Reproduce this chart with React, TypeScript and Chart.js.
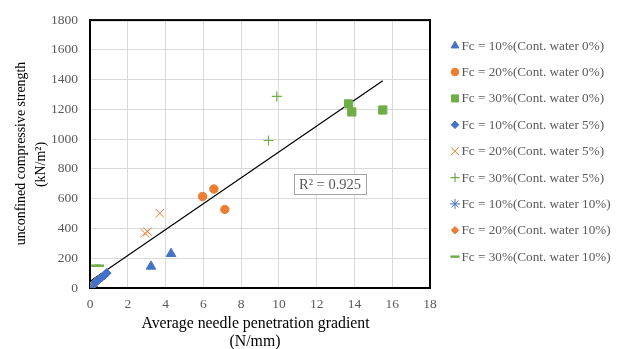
import React, { useEffect, useRef } from 'react';
import { Chart, registerables } from 'chart.js';
import { drawPoint } from 'chart.js/helpers';

Chart.register(...registerables);

// ---- data ----
const seriesLabels = [
  'Fc = 10%(Cont. water 0%)',
  'Fc = 20%(Cont. water 0%)',
  'Fc = 30%(Cont. water 0%)',
  'Fc = 10%(Cont. water 5%)',
  'Fc = 20%(Cont. water 5%)',
  'Fc = 30%(Cont. water 5%)',
  'Fc = 10%(Cont. water 10%)',
  'Fc = 20%(Cont. water 10%)',
  'Fc = 30%(Cont. water 10%)',
];

const fc10w0X = [3.23, 4.29];
const fc10w0Y = [145, 230];
const fc20w0X = [5.96, 6.56, 7.14];
const fc20w0Y = [615, 665, 528];
const fc30w0X = [13.69, 13.86, 15.5];
const fc30w0Y = [1237, 1183, 1196];
const fc10w5X = [0.3, 0.45, 0.6, 0.75, 0.88];
const fc10w5Y = [40, 55, 70, 85, 100];
const fc20w5X = [2.91, 3.05, 3.7];
const fc20w5Y = [367, 378, 502];
const fc30w5X = [9.45, 9.89];
const fc30w5Y = [991, 1287];
const fc10w10X = [0.05, 0.15];
const fc10w10Y = [5, 10];
const fc20w10X = [0.1, 0.2, 0.3];
const fc20w10Y = [15, 25, 38];
const fc30w10X = [0.3, 0.5];
const fc30w10Y = [150, 150];

const trendX = [0.05, 15.5];
const trendY = [49, 1393];
const rSquaredText = 'R² = 0.925';

const xTicks = [0, 2, 4, 6, 8, 10, 12, 14, 16, 18];
const yTicks = [0, 200, 400, 600, 800, 1000, 1200, 1400, 1600, 1800];

const xTitle = ['Average needle penetration gradient', '(N/mm)'];
const yTitle = ['unconfined compressive strength', '(kN/m²)'];

// ---- styles ----
const BLUE = '#4472C4';
const ORANGE = '#ED7D31';
const GREEN = '#70AD47';
const FONT = '"Liberation Serif", "Times New Roman", serif';

const pts = (xs: number[], ys: number[]) => xs.map((x, i) => ({ x, y: ys[i] }));

const seriesStyles = [
  { color: BLUE, style: 'triangle', radius: 5.5, borderWidth: 1, legendRadius: 4.5 },
  { color: ORANGE, style: 'circle', radius: 4.2, borderWidth: 1, legendRadius: 3.8 },
  { color: GREEN, style: 'rect', radius: 5.8, borderWidth: 1, legendRadius: 5 },
  { color: BLUE, style: 'rectRot', radius: 4.5, borderWidth: 1, legendRadius: 3.8 },
  { color: ORANGE, style: 'crossRot', radius: 6, borderWidth: 1, legendRadius: 5.5 },
  { color: GREEN, style: 'cross', radius: 5, borderWidth: 1.2, legendRadius: 4.5 },
  { color: BLUE, style: 'star', radius: 5, borderWidth: 1, legendRadius: 5 },
  { color: ORANGE, style: 'rectRot', radius: 4.5, borderWidth: 1, legendRadius: 3.8 },
  { color: GREEN, style: 'line', radius: 4.5, borderWidth: 2.5, legendRadius: 4.5 },
];

const seriesData = [
  pts(fc10w0X, fc10w0Y),
  pts(fc20w0X, fc20w0Y),
  pts(fc30w0X, fc30w0Y),
  pts(fc10w5X, fc10w5Y),
  pts(fc20w5X, fc20w5Y),
  pts(fc30w5X, fc30w5Y),
  pts(fc10w10X, fc10w10Y),
  pts(fc20w10X, fc20w10Y),
  pts(fc30w10X, fc30w10Y),
];

const decorPlugin = {
  id: 'decor',
  beforeDatasetsDraw(chart: any) {
    const { ctx, chartArea: a } = chart;
    ctx.save();
    ctx.strokeStyle = '#000';
    ctx.lineWidth = 2;
    ctx.strokeRect(a.left, a.top, a.right - a.left, a.bottom - a.top);
    ctx.restore();
  },
  afterDraw(chart: any) {
    const { ctx } = chart;
    ctx.save();
    // legend
    ctx.font = `13.2px ${FONT}`;
    ctx.textAlign = 'left';
    ctx.textBaseline = 'middle';
    seriesLabels.forEach((label, i) => {
      const s = seriesStyles[i];
      const y = 45.7 + i * 26.37;
      ctx.fillStyle = s.color;
      ctx.strokeStyle = s.color;
      ctx.lineWidth = s.borderWidth;
      drawPoint(ctx, { pointStyle: s.style, rotation: 0, radius: s.legendRadius, borderWidth: s.borderWidth } as any, 455, y);
      ctx.fillStyle = '#595959';
      ctx.fillText(label, 461.5, y + 0.5);
    });

    // R squared box
    const bx = 294, by = 174, bw = 72, bh = 20;
    ctx.fillStyle = '#fff';
    ctx.fillRect(bx, by, bw, bh);
    ctx.strokeStyle = '#a6a6a6';
    ctx.lineWidth = 1;
    ctx.strokeRect(bx + 0.5, by + 0.5, bw, bh);
    ctx.fillStyle = '#595959';
    ctx.font = `14.5px ${FONT}`;
    ctx.textAlign = 'center';
    ctx.fillText(rSquaredText, bx + bw / 2, by + bh / 2 + 1);

    // x title
    ctx.fillStyle = '#000';
    ctx.font = `15.8px ${FONT}`;
    ctx.fillText(xTitle[0], 255.5, 323.5);
    ctx.fillText(xTitle[1], 255, 341.5);

    // y title
    ctx.font = `13.9px ${FONT}`;
    ctx.translate(21, 153.5);
    ctx.rotate(-Math.PI / 2);
    ctx.fillText(yTitle[0], 0, 0);
    ctx.rotate(Math.PI / 2);
    ctx.translate(-21, -153.5);
    ctx.translate(41, 164.5);
    ctx.rotate(-Math.PI / 2);
    ctx.fillText(yTitle[1], 0, 0);
    ctx.restore();
  },
};

export default function App() {
  const ref = useRef<HTMLCanvasElement | null>(null);
  useEffect(() => {
    if (!ref.current) return;
    const datasets: any[] = seriesLabels.map((label, i) => {
      const s = seriesStyles[i];
      return {
        type: 'scatter',
        label,
        data: seriesData[i],
        pointStyle: s.style,
        pointRadius: s.radius,
        pointHoverRadius: s.radius,
        pointBorderWidth: s.borderWidth,
        backgroundColor: s.color,
        borderColor: s.color,
        order: 1,
      };
    });
    datasets.unshift({
      type: 'line',
      label: 'trend',
      data: pts(trendX, trendY),
      borderColor: '#000',
      borderWidth: 1.2,
      pointRadius: 0,
      fill: false,
      order: 2,
    });
    const chart = new Chart(ref.current, {
      type: 'scatter',
      data: { datasets },
      options: {
        animation: false,
        responsive: true,
        maintainAspectRatio: false,
        layout: { padding: { left: 0, top: 12, right: 195, bottom: 0 } },
        plugins: { legend: { display: false }, tooltip: { enabled: false } },
        scales: {
          x: {
            type: 'linear',
            min: 0,
            max: 18,
            afterFit: (s: any) => { s.height = 61; },
            afterBuildTicks: (s: any) => { s.ticks = xTicks.map((v) => ({ value: v })); },
            grid: { color: '#d9d9d9', lineWidth: 1, drawTicks: false },
            border: { display: false },
            ticks: { color: '#595959', font: { family: FONT, size: 13.5 }, padding: 8, maxRotation: 0, callback: (v: any) => String(v) },
          },
          y: {
            type: 'linear',
            min: 0,
            max: 1800,
            afterFit: (s: any) => { s.width = 90; },
            afterBuildTicks: (s: any) => { s.ticks = yTicks.map((v) => ({ value: v })); },
            grid: { color: '#d9d9d9', lineWidth: 1, drawTicks: false },
            border: { display: false },
            ticks: { color: '#595959', font: { family: FONT, size: 13.5 }, padding: 12, callback: (v: any) => String(v) },
          },
        },
      },
      plugins: [decorPlugin],
    });
    return () => chart.destroy();
  }, []);
  return (
    <div style={{ position: 'absolute', left: 0, top: 0, width: 625, height: 349, background: '#fff' }}>
      <canvas ref={ref} />
    </div>
  );
}
